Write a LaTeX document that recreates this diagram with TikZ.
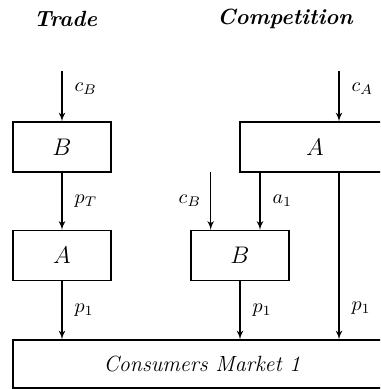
\documentclass[tikz,border=0pt]{standalone}
\usepackage{amsmath}
\usepackage{tikz}
\usetikzlibrary{arrows}
\tikzset{
        firmnode/.style = {align=center, inner sep=0pt, text centered,
            font=\fontsize{11.5}{13}\selectfont},
        firm_box/.style = {firmnode, rectangle, draw=black, line width=0.55pt,
            minimum width=49pt, minimum height=25pt},
        firm_wide/.style = {firm_box, minimum width=75pt},
        mkt_box/.style = {firm_box, minimum width=189pt, minimum height=24pt,
            font=\fontsize{11}{13}\selectfont\itshape},
        head_t/.style = {font=\fontsize{11}{13}\selectfont\bfseries\itshape},
        lab_r/.style = {midway, anchor=west, inner sep=0pt, xshift=6pt},
        lab_l/.style = {midway, anchor=east, inner sep=0pt, xshift=-4.5pt}
    }
\begin{document}
\begin{tikzpicture}[x=0.5pt, y=-0.5pt, ->, >=latex', line width=0.55pt]
    \useasboundingbox (0,0) rectangle (380,389);
    \clip (0,0) rectangle (380,389);
    % titles
    \node [head_t] (trade) at (65.5,19) {Trade};
    \node [head_t] (comp) at (285,19) {Competition};
    % Trade
    \node [firm_box] (B1) at (62,147) {$B$};
    \node [firm_box] (A1) at (62,255.5) {$A$};
    % Competition
    \node [firm_wide] (A2) at (315,147) {$A$};
    \node [firm_box] (B2) at (240,255.5) {$B$};
    % market
    \node [mkt_box] (mkt) at (202,364) {Consumers Market 1};
    \coordinate (inB1) at (62,71);
    \coordinate (inA2) at (339,71);
    \coordinate (inB2) at (210.7,172);
    \coordinate (outA2) at (260,172);
    \draw (inB1) -- (B1) node [lab_r, pos=0.35] {$c_B$};
    \draw (B1) -- (A1) node [lab_r] {$p_T$};
    \draw (A1) -- (A1 |- mkt.north) node [lab_r] {$p_1$};
    \draw (inA2) -- (inA2 |- A2.north) node [lab_r, pos=0.35] {$c_A$};
    \draw (outA2) -- (outA2 |- B2.north) node [lab_r] {$a_1$};
    \draw (inB2) -- (inB2 |- B2.north) node [lab_l] {$c_B$};
    \draw (B2) -- (B2 |- mkt.north) node [lab_r] {$p_1$};
    \draw (inA2 |- A2.south) -- (inA2 |- mkt.north) node [lab_r, pos=0.81] {$p_1$};
\end{tikzpicture}
\end{document}
